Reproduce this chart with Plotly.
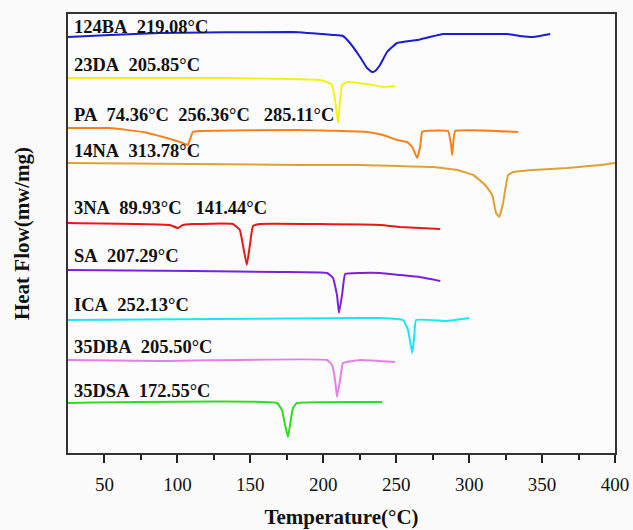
import plotly.graph_objects as go

# Temperature (°C) and heat flow (arbitrary offset units)
t_124BA = [25, 53.6, 88, 179, 206.6, 213.5, 218.3, 225.2, 230, 233.4, 235.5, 238.9, 243.7, 250.6, 264.3, 282.2, 298.6, 326, 335, 344, 355.6]
h_124BA = [416, 418, 420, 421, 418, 417, 410, 396, 385, 381, 382, 388, 401, 410, 413, 419, 419, 419, 417, 416, 419]

t_23DA = [25, 133.8, 179, 197.8, 202.5, 206, 208.1, 210.1, 211.5, 212.9, 216.3, 230, 241, 249.2]
h_23DA = [375, 375, 374, 373, 371, 368, 353, 330, 353, 368, 371, 369, 366, 367]

t_PA = [25, 53.6, 76.3, 92.7, 103.7, 107.1, 109.2, 110.6, 115.4, 184, 230, 241, 250.6, 257.5, 261, 264.3, 266.4, 267.7, 269.8, 285.6, 287.6, 288.4, 289, 290.4, 333.6]
h_PA = [325, 325, 321, 315, 310, 308, 316, 321, 322, 323, 321, 318, 313, 311, 306, 295, 306, 321, 322, 322, 308, 298, 308, 322, 321]

t_14NA = [25, 184, 225.2, 275.4, 291.8, 302.8, 311, 315.8, 318.5, 320.6, 323.3, 324.7, 326.7, 330.2, 343.9, 367.2, 389.9, 400]
h_14NA = [290, 288, 288, 286, 283, 278, 268, 258, 240, 236, 250, 263, 278, 281, 283, 285, 288, 290]

t_3NA = [25, 94.8, 100.3, 103.7, 110.6, 138, 142.8, 144.9, 147.6, 149.7, 151.8, 156.6, 238.9, 252.6, 280.2]
h_3NA = [230, 228, 225, 228, 229, 229, 223, 208, 188, 208, 227, 229, 228, 226, 224]

t_SA = [25, 110.6, 170.3, 202.6, 206.7, 209.4, 210.8, 212.9, 215, 225.2, 238.9, 252.6, 266.4, 280.2]
h_SA = [183, 182, 181, 180, 175, 158, 140, 158, 179, 180, 180, 178, 176, 172]

t_ICA = [25, 225.2, 238.9, 254.7, 258.1, 261, 262.3, 263.6, 284.5, 300]
h_ICA = [133, 135, 135, 133, 123, 100, 115, 133, 132, 135]

t_35DBA = [25, 88, 202.6, 206, 208.1, 209.4, 211.5, 213.5, 225.2, 249.2]
h_35DBA = [93, 92, 93, 88, 73, 56, 73, 90, 93, 91]

t_35DSA = [25, 168.3, 171.7, 173.8, 175.8, 177.2, 179.2, 182, 240.3]
h_35DSA = [50, 50, 43, 28, 16, 28, 45, 50, 51]

labels = ["124BA\u00a0\u00a0219.08°C", "23DA\u00a0\u00a0205.85°C",
          "PA\u00a0\u00a074.36°C\u00a0\u00a0256.36°C\u00a0\u00a0\u00a0285.11°C",
          "14NA\u00a0\u00a0313.78°C", "3NA\u00a0\u00a089.93°C\u00a0\u00a0\u00a0141.44°C",
          "SA\u00a0\u00a0207.29°C", "ICA\u00a0\u00a0252.13°C", "35DBA\u00a0\u00a0205.50°C",
          "35DSA\u00a0\u00a0172.55°C"]
label_h = [426, 388, 338, 302, 245, 197, 148, 106, 62]

series = [
    (t_124BA, h_124BA, "#1c1cd2"),
    (t_23DA, h_23DA, "#f2f21a"),
    (t_PA, h_PA, "#f5821e"),
    (t_14NA, h_14NA, "#dfa232"),
    (t_3NA, h_3NA, "#e81818"),
    (t_SA, h_SA, "#7a22d8"),
    (t_ICA, h_ICA, "#1ee6f0"),
    (t_35DBA, h_35DBA, "#e67ee6"),
    (t_35DSA, h_35DSA, "#30dc20"),
]

fig = go.Figure()
for t, h, c in series:
    fig.add_trace(go.Scatter(x=t, y=h, mode="lines",
                             line=dict(color=c, width=2, shape="spline", smoothing=0.3),
                             showlegend=False, hoverinfo="skip"))

for txt, yv in zip(labels, label_h):
    fig.add_annotation(x=27.5, y=yv, xref="x", yref="y", text="<b>" + txt + "</b>",
                       showarrow=False, xanchor="left", yanchor="middle",
                       font=dict(family="Liberation Serif", size=18.5, color="#111"))

fig.update_layout(
    width=633, height=530,
    margin=dict(l=68, r=18, t=14, b=77, autoexpand=False),
    paper_bgcolor="#fbfbfb", plot_bgcolor="#fcfcfc",
    font=dict(family="Liberation Serif", color="#111"),
)
fig.update_xaxes(range=[25, 400], tickvals=[50, 100, 150, 200, 250, 300, 350, 400],
                 ticks="outside", ticklen=8, tickwidth=1.5, tickcolor="#222",
                 minor=dict(tickvals=[75, 125, 175, 225, 275, 325, 375], ticks="outside", ticklen=5, tickwidth=1.5, tickcolor="#222"),
                 tickfont=dict(size=19, family="Liberation Serif", color="#111"),
                 ticklabelstandoff=5, automargin=False,
                 showline=True, linecolor="#333", linewidth=1.8, mirror=True,
                 showgrid=False, zeroline=False,
                 title=dict(text="<b>Temperature(°C)</b>", font=dict(size=21, family="Liberation Serif", color="#111"), standoff=16))
fig.update_yaxes(range=[0, 439], showticklabels=False, ticks="", automargin=False,
                 showline=True, linecolor="#333", linewidth=1.8, mirror=True,
                 showgrid=False, zeroline=False,
                 title=dict(text="<b>Heat Flow(mw/mg)</b>", font=dict(size=21, family="Liberation Serif", color="#111"), standoff=31))

fig.write_html("out.html",
               post_script="document.body.style.margin='0';document.body.style.overflow='hidden';")
